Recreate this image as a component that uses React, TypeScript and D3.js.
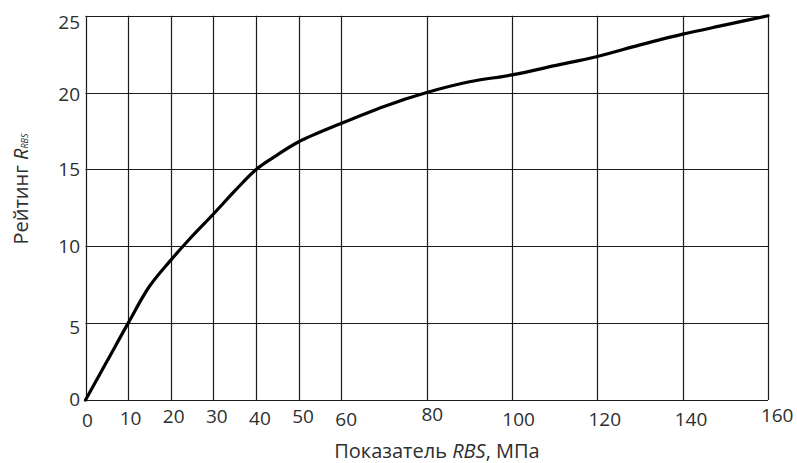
import React from 'react';
import * as d3 from 'd3';

const xTicks = [0, 10, 20, 30, 40, 50, 60, 80, 100, 120, 140, 160];
const yTicks = [0, 5, 10, 15, 20, 25];
const rbs = [0, 5, 10, 15, 20, 25, 30, 35, 40, 45, 50, 60, 70, 80, 90, 100, 110, 120, 130, 140, 150, 160];
const rating = [0, 2.5, 5, 7.4, 9.1, 10.65, 12.1, 13.6, 15.0, 15.95, 16.8, 18.0, 19.1, 20.0, 20.7, 21.15, 21.75, 22.35, 23.1, 23.8, 24.4, 25];

// small per-label vertical nudges (px) seen in the scanned original
const xLabelNudge: Record<number, number> = { 0: 2, 10: 0, 20: -2, 30: -2, 40: 0, 50: -2, 60: 1, 80: -4, 100: 1, 120: 1, 140: 1, 160: -3 };
const yLabelNudge: Record<number, number> = { 0: 0, 5: 5, 10: 1, 15: 1, 20: 2, 25: 7 };

const W = 797;
const H = 463;
const M = { left: 85.5, right: 768, top: 15.7, bottom: 400 };
const FONT = '"Open Sans", sans-serif';
const TXT = '#2e2e2e';

export default function App() {
  const x = d3.scaleLinear().domain([0, 160]).range([M.left, M.right]);
  const y = d3.scaleLinear().domain([0, 25]).range([M.bottom, M.top]);
  const pts = rbs.map((v, i) => [v, rating[i]] as [number, number]);
  const line = d3
    .line<[number, number]>()
    .x((d) => x(d[0]))
    .y((d) => y(d[1]))
    .curve(d3.curveCatmullRom.alpha(0.5));

  return (
    <svg
      width={W}
      height={H}
      style={{ position: 'absolute', left: 0, top: 0, background: '#fff' }}
    >
      <rect x={0} y={0} width={W} height={H} fill="#fff" />
      {xTicks.map((t) => (
        <line
          key={'gx' + t}
          x1={Math.round(x(t)) + 0.5}
          x2={Math.round(x(t)) + 0.5}
          y1={y(0)}
          y2={y(25)}
          stroke="#1a1a1a"
          strokeWidth={1.2}
        />
      ))}
      {yTicks.map((t) => (
        <line
          key={'gy' + t}
          x1={x(0)}
          x2={x(160)}
          y1={Math.round(y(t)) + 0.5}
          y2={Math.round(y(t)) + 0.5}
          stroke="#1a1a1a"
          strokeWidth={1.2}
        />
      ))}
      <path d={line(pts) || ''} fill="none" stroke="#000" strokeWidth={3.2} strokeLinejoin="round" strokeLinecap="round" />
      {xTicks.map((t) => (
        <text
          key={'tx' + t}
          x={x(t) + 2 + t * 0.045}
          y={425 + (xLabelNudge[t] || 0)}
          textAnchor="middle"
          fontFamily={FONT}
          fontSize={19}
          fill={TXT}
        >
          {t}
        </text>
      ))}
      {yTicks.map((t) => (
        <text
          key={'ty' + t}
          x={80}
          y={y(t) + 6 + (yLabelNudge[t] || 0)}
          textAnchor="end"
          fontFamily={FONT}
          fontSize={19}
          fill={TXT}
        >
          {t}
        </text>
      ))}
      <text x={437} y={458} textAnchor="middle" fontFamily={FONT} fontSize={20} fill={TXT}>
        Показатель <tspan fontStyle="italic">RBS</tspan>, МПа
      </text>
      <text
        transform={`translate(28,189) rotate(-90)`}
        textAnchor="middle"
        fontFamily={FONT}
        fontSize={20}
        fill={TXT}
      >
        Рейтинг <tspan fontStyle="italic">R</tspan>
        <tspan fontStyle="italic" fontSize={9}>RBS</tspan>
      </text>
    </svg>
  );
}
